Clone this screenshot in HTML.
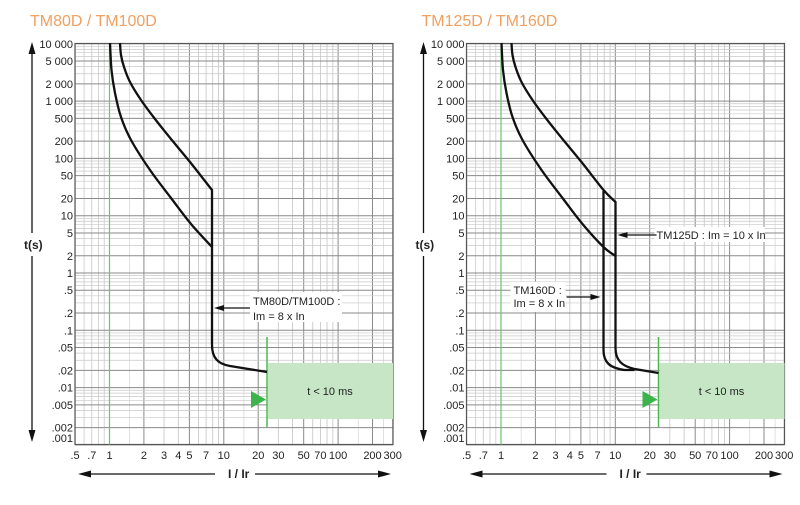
<!DOCTYPE html>
<html><head><meta charset="utf-8"><style>
body{margin:0;background:#fff;width:800px;height:505px;overflow:hidden}
svg{display:block}
text{font-family:"Liberation Sans",Arial,sans-serif}
</style></head><body>
<svg id="s" width="800" height="505" xmlns="http://www.w3.org/2000/svg"></svg>
<script>
const S=document.getElementById('s');let h='';
const DX=114.3, DY=57.3;
function cr(pts){
  let d='M'+pts[0][0]+','+pts[0][1];
  for(let i=0;i<pts.length-1;i++){
    const p0=pts[i-1]||pts[i],p1=pts[i],p2=pts[i+1],p3=pts[i+2]||p2;
    const c1=[p1[0]+(p2[0]-p0[0])/6,p1[1]+(p2[1]-p0[1])/6];
    const c2=[p2[0]-(p3[0]-p1[0])/6,p2[1]-(p3[1]-p1[1])/6];
    d+=` C${c1[0]},${c1[1]} ${c2[0]},${c2[1]} ${p2[0]},${p2[1]}`;
  }
  return d;
}
function panel(ox,title,right){
  const L=ox, R=ox+318, T=43.5, B=444.5;
  const X=v=>L+34.5+Math.log10(v)*DX, Y=v=>273-Math.log10(v)*DY;
  h+=`<text x="${ox-45}" y="26" font-size="16" fill="#f0a060">${title}</text>`;
  for(let d=-1;d<=2;d++)for(let m=1;m<10;m++){const v=m*Math.pow(10,d);if(v<0.5||v>300)continue;
    const major=(m==1||m==2||m==5);const x=X(v);
    h+=`<line x1="${x}" y1="${T}" x2="${x}" y2="${B}" stroke="${major?'#8a8a8a':'#c4c4c4'}" stroke-width="${major?1:0.8}"/>`;}
  for(const v of [0.6,0.8,0.9,1.5,15,150,250]){const x=X(v);h+=`<line x1="${x}" y1="${T}" x2="${x}" y2="${B}" stroke="#d4d4d4" stroke-width="0.7"/>`;}
  for(let d=-3;d<=4;d++)for(let m=1;m<10;m++){const v=m*Math.pow(10,d);if(v>10000)continue;
    const major=(m==1||m==2||m==5);const y=Y(v);
    h+=`<line x1="${L}" y1="${y}" x2="${R}" y2="${y}" stroke="${major?'#8a8a8a':'#c8c8c8'}" stroke-width="${major?1:0.7}"/>`;}
  h+=`<rect x="${L}" y="${T}" width="318" height="${B-T}" fill="none" stroke="#555" stroke-width="1.2"/>`;
  h+=`<line x1="${X(1)}" y1="${T}" x2="${X(1)}" y2="${B}" stroke="#6cc46c" stroke-width="1.2"/>`;
  const yl=[[10000,'10 000',48],[5000,'5 000'],[2000,'2 000'],[1000,'1 000'],[500,'500'],[200,'200'],[100,'100'],[50,'50'],[20,'20'],[10,'10'],[5,'5'],[2,'2'],[1,'1'],[.5,'.5'],[.2,'.2'],[.1,'.1'],[.05,'.05'],[.02,'.02'],[.01,'.01'],[.005,'.005'],[.002,'.002'],[.001,'.001',442]];
  for(const [v,t,yy] of yl){const y=yy||Y(v)+4;h+=`<text x="${L-2}" y="${y}" font-size="11" text-anchor="end" fill="#222">${t}</text>`;}
  const xl=[[.5,'.5'],[.7,'.7'],[1,'1'],[2,'2'],[3,'3'],[4,'4'],[5,'5'],[7,'7'],[10,'10'],[20,'20'],[30,'30'],[50,'50'],[70,'70'],[100,'100'],[200,'200'],[300,'300']];
  for(const [v,t] of xl)h+=`<text x="${X(v)}" y="459" font-size="11" text-anchor="middle" fill="#222">${t}</text>`;
  const ax=ox-43;
  h+=`<line x1="${ax}" y1="52" x2="${ax}" y2="233" stroke="#111" stroke-width="1.3"/><polygon points="${ax-3.5},54 ${ax+3.5},54 ${ax},42" fill="#111"/>`;
  h+=`<line x1="${ax}" y1="256" x2="${ax}" y2="432" stroke="#111" stroke-width="1.3"/><polygon points="${ax-3.5},430 ${ax+3.5},430 ${ax},442" fill="#111"/>`;
  h+=`<text x="${ax-8}" y="249" font-size="12" font-weight="bold" fill="#222">t(s)</text>`;
  h+=`<line x1="${L+8}" y1="474" x2="${L+140}" y2="474" stroke="#111" stroke-width="1.3"/><line x1="${L+180}" y1="474" x2="${R-8}" y2="474" stroke="#111" stroke-width="1.3"/>`;
  h+=`<polygon points="${L+3},474 ${L+16},470.5 ${L+16},477.5" fill="#111"/><polygon points="${R-2},474 ${R-15},470.5 ${R-15},477.5" fill="#111"/>`;
  h+=`<text x="${L+153}" y="478" font-size="12" font-weight="bold" fill="#222">I / Ir</text>`;
  h+=`<rect x="${ox+193}" y="363" width="${R-ox-193}" height="56" fill="#c6e6c6"/>`;
  h+=`<line x1="${ox+192}" y1="337" x2="${ox+192}" y2="427" stroke="#4cb84c" stroke-width="1.5"/>`;
  h+=`<polygon points="${ox+176},391 ${ox+176},408 ${ox+191},399.5" fill="#3cb44c"/>`;
  h+=`<text x="${ox+255}" y="395" font-size="11" text-anchor="middle" fill="#222">t &lt; 10 ms</text>`;
  const sh=a=>a.map(q=>[ox+q[0],q[1]]);
  const low=[[35,43],[36.5,70],[40,93],[46,117],[56,140],[75,170],[96,198],[116,224],[137,247]];
  const up=[[45,43],[46,55],[49,67],[55,82],[66,100],[80,119],[96,139],[115,162],[137,190]];
  const st='fill="none" stroke="#111" stroke-width="2.3" stroke-linejoin="round"';
  const tail=(x)=>`L${ox+x},345 C${ox+x},358 ${ox+x+6},364 ${ox+x+18},366 L${ox+192},372`;
  if(!right){
    h+=`<path ${st} d="${cr(sh(up))} L${ox+137},248 ${tail(137)}"/>`;
    h+=`<path ${st} d="${cr(sh(low))}"/>`;
    h+=`<rect x="${ox+175}" y="292" width="92" height="30" fill="#fff"/>`;
    h+=`<text x="${ox+178}" y="305" font-size="11" fill="#222">TM80D/TM100D :</text><text x="${ox+178}" y="320" font-size="11" fill="#222">Im = 8 x In</text>`;
    h+=`<line x1="${ox+145}" y1="308" x2="${ox+175}" y2="308" stroke="#111" stroke-width="1.2"/><polygon points="${ox+139},308 ${ox+149},305 ${ox+149},311" fill="#111"/>`;
  } else {
    h+=`<path ${st} d="${cr(sh(up.concat([[149,202]])))} L${ox+149},256 L${ox+149},348 C${ox+149},360 ${ox+155},366 ${ox+168},369 L${ox+192},373"/>`;
    h+=`<path ${st} d="${cr(sh(low.concat([[149,256]])))}"/>`;
    h+=`<path ${st} d="M${ox+137},191 L${ox+137},350 C${ox+137},362 ${ox+143},368 ${ox+158},370 L${ox+168},370"/>`;
    h+=`<rect x="${ox+188}" y="227" width="110" height="15" fill="#fff"/>`;
    h+=`<text x="${ox+190}" y="239" font-size="11" fill="#222">TM125D : Im = 10 x In</text>`;
    h+=`<line x1="${ox+156}" y1="235" x2="${ox+190}" y2="235" stroke="#111" stroke-width="1.2"/><polygon points="${ox+151},235 ${ox+161},232 ${ox+161},238" fill="#111"/>`;
    h+=`<rect x="${ox+44}" y="282" width="55" height="30" fill="#fff"/>`;
    h+=`<text x="${ox+47}" y="294" font-size="11" fill="#222">TM160D :</text><text x="${ox+47}" y="307" font-size="11" fill="#222">Im = 8 x In</text>`;
    h+=`<line x1="${ox+100}" y1="297" x2="${ox+128}" y2="297" stroke="#111" stroke-width="1.2"/><polygon points="${ox+134},297 ${ox+124},294 ${ox+124},300" fill="#111"/>`;
  }
}
panel(75,'TM80D / TM100D',false);
panel(466.5,'TM125D / TM160D',true);
S.innerHTML=h;
</script>
</body></html>
